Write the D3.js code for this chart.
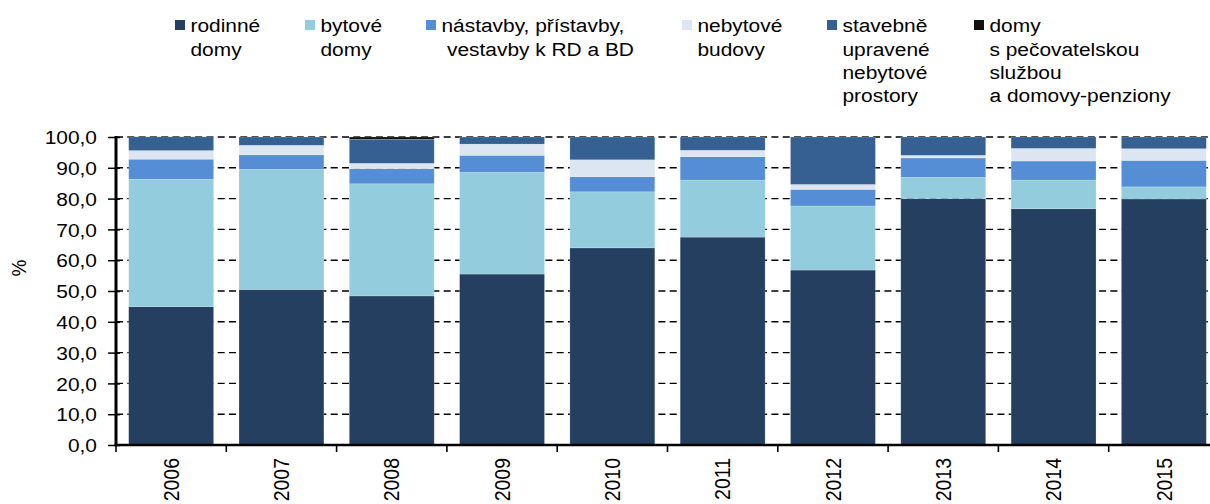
<!DOCTYPE html>
<html>
<head>
<meta charset="utf-8">
<script src="https://cdn.jsdelivr.net/npm/d3@7"></script>
<style>
  html, body { margin: 0; padding: 0; background: #fff; }
  svg { display: block; }
  text { font-family: "Liberation Sans", Arial, sans-serif; fill: #000; }
</style>
</head>
<body>
<svg id="chart"></svg>
<script>
// ---- data ----
const years = ["2006","2007","2008","2009","2010","2011","2012","2013","2014","2015"];
const rodinne   = [44.9, 50.5, 48.4, 55.5, 64.0, 67.5, 56.8, 80.0, 76.7, 79.9];
const bytove    = [41.4, 39.0, 36.4, 33.0, 18.2, 18.5, 20.8, 6.9, 9.3, 3.9];
const nastavby  = [6.5, 4.7, 4.9, 5.55, 4.9, 7.6, 5.4, 6.3, 6.2, 8.6];
const nebytove  = [2.8, 3.1, 1.75, 3.65, 5.5, 2.1, 1.6, 0.85, 4.1, 3.8];
const stavebne  = [4.45, 2.7, 7.8, 2.3, 7.4, 4.3, 15.4, 5.95, 3.7, 3.8];
const pecovatel = [0, 0, 0.75, 0, 0, 0, 0, 0, 0, 0];
const yTicks = [0, 10, 20, 30, 40, 50, 60, 70, 80, 90, 100];
const seriesKeys = ["rodinne","bytove","nastavby","nebytove","stavebne","pecovatel"];
const seriesLabels = [
  ["rodinné","domy"],
  ["bytové","domy"],
  ["nástavby, přístavby,","vestavby k RD a BD"],
  ["nebytové","budovy"],
  ["stavebně","upravené","nebytové","prostory"],
  ["domy","s pečovatelskou","službou","a domovy-penziony"]
];
const colors = ["#243F60","#93CDDD","#558ED5","#DCE6F2","#366092","#111111"];

// ---- layout (page px; horizontally stretched via viewBox) ----
const S = 1.1;
const PW = 1210, PH = 504;
const VW = PW / S;
const px = v => v / S;
const plotLeft = 116, plotRight = 1219, yTop = 137, yBottom = 445;
const legendX = [175, 305, 426, 682, 827, 974];
const lineIndent = [0, 0, 5.5, 0, 0, 0];

const table = years.map((yr, i) => ({
  year: yr,
  rodinne: rodinne[i], bytove: bytove[i], nastavby: nastavby[i],
  nebytove: nebytove[i], stavebne: stavebne[i], pecovatel: pecovatel[i]
}));

const svg = d3.select("#chart")
  .attr("width", PW).attr("height", PH)
  .attr("viewBox", `0 0 ${VW} ${PH}`)
  .attr("preserveAspectRatio", "none");

const x = d3.scaleBand().domain(years)
  .range([px(plotLeft), px(plotRight)])
  .paddingInner(0.23).paddingOuter(0.115);
const y = d3.scaleLinear().domain([0, 100]).range([yBottom, yTop]);

// gridlines
svg.append("g").selectAll("line")
  .data(yTicks.filter(d => d > 0))
  .join("line")
  .attr("x1", px(plotLeft)).attr("x2", px(plotRight))
  .attr("y1", d => y(d)).attr("y2", d => y(d))
  .attr("stroke", "#000").attr("stroke-width", 1.4)
  .attr("stroke-dasharray", `${px(7)},${px(4.3)}`);

// stacked bars
const stack = d3.stack().keys(seriesKeys)(table);
svg.append("g").selectAll("g")
  .data(stack)
  .join("g")
  .attr("fill", (d, i) => colors[i])
  .selectAll("rect")
  .data(d => d)
  .join("rect")
  .attr("x", d => x(d.data.year))
  .attr("width", x.bandwidth())
  .attr("y", d => y(d[1]))
  .attr("height", d => Math.max(0, y(d[0]) - y(d[1])))
  .attr("stroke", "rgba(255,255,255,0.3)")
  .attr("stroke-width", 0.6);

// y axis
const yAxis = svg.append("g")
  .attr("transform", `translate(${px(plotLeft)},0)`)
  .call(d3.axisLeft(y).tickValues(yTicks)
    .tickFormat(d => d.toFixed(1).replace(".", ","))
    .tickSize(px(8)).tickSizeOuter(0).tickPadding(0));
yAxis.select(".domain").remove();
yAxis.selectAll(".tick line").attr("x1", px(4)).attr("stroke", "#000").attr("stroke-width", 1.5);
yAxis.selectAll(".tick text")
  .attr("x", -px(19)).attr("dy", "0.35em")
  .style("font-size", "19px");
yAxis.append("line")
  .attr("x1", 0).attr("x2", 0).attr("y1", yTop - 1).attr("y2", yBottom)
  .attr("stroke", "#000").attr("stroke-width", px(3));

// x axis
const xAxis = svg.append("g")
  .attr("transform", `translate(0,${yBottom})`)
  .call(d3.axisBottom(x).tickSize(0).tickPadding(0));
xAxis.select(".domain").remove();
xAxis.selectAll(".tick text")
  .attr("transform", "rotate(-90)")
  .attr("x", -13).attr("y", 0).attr("dy", "0.36em")
  .style("text-anchor", "end")
  .style("font-size", "19.5px");
const gap = x.step() - x.bandwidth();
xAxis.append("g").selectAll("line")
  .data(years)
  .join("line")
  .attr("x1", d => x(d) - gap / 2).attr("x2", d => x(d) - gap / 2)
  .attr("y1", 0).attr("y2", 7)
  .attr("stroke", "#000").attr("stroke-width", px(1.6));
xAxis.append("line")
  .attr("x1", px(plotLeft) - px(1.5)).attr("x2", px(plotRight))
  .attr("y1", 0).attr("y2", 0)
  .attr("stroke", "#000").attr("stroke-width", 2.7);

// y axis title
svg.append("text")
  .attr("transform", `translate(${px(19)},268) rotate(-90)`)
  .attr("dy", "0.35em")
  .style("text-anchor", "middle")
  .style("font-size", "19px")
  .text("%");

// legend
const legend = svg.append("g");
seriesLabels.forEach((lines, i) => {
  const g = legend.append("g");
  g.append("rect")
    .attr("x", px(legendX[i])).attr("y", 20)
    .attr("width", px(10)).attr("height", 10)
    .attr("fill", colors[i]);
  const t = g.append("text").style("font-size", "19px");
  lines.forEach((ln, j) => {
    t.append("tspan")
      .attr("x", px(legendX[i] + 15.5 + (j > 0 ? lineIndent[i] : 0)))
      .attr("y", 32.3 + j * 23.3)
      .text(ln);
  });
});
</script>
</body>
</html>
